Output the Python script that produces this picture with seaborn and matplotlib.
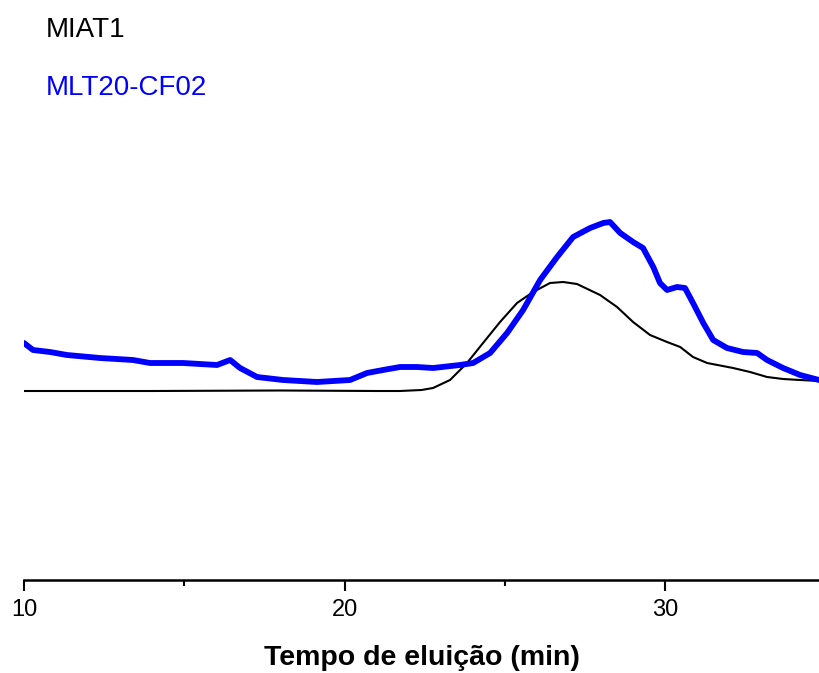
import matplotlib
matplotlib.use("Agg")
import matplotlib.pyplot as plt
import seaborn as sns
import pandas as pd
from matplotlib.ticker import MultipleLocator

# elution time (min) and detector signal (arbitrary units)
miat_t = [10.0, 14.0, 18.0, 21.0, 21.73, 22.4, 22.76, 23.29, 23.82, 24.32, 24.85,
          25.38, 25.88, 26.41, 26.82, 27.25, 27.97, 28.50, 29.00, 29.53, 30.06,
          30.47, 30.87, 31.31, 32.12, 32.65, 33.18, 33.68, 34.21, 34.8]
miat_v = [189, 189, 189.5, 189, 189, 190, 192, 200, 217, 237, 258,
          277, 288, 297, 298, 296, 285, 273, 258, 245, 238,
          233, 223, 217, 212, 208, 203, 201, 200, 199]

mlt_t = [10.0, 10.28, 10.81, 11.34, 12.37, 13.40, 13.93, 14.96, 16.02, 16.43,
         16.74, 17.27, 18.08, 19.14, 20.17, 20.70, 21.20, 21.73, 22.26, 22.76,
         23.60, 24.01, 24.54, 25.07, 25.57, 26.10, 26.63, 27.13, 27.66, 28.07,
         28.28, 28.60, 29.00, 29.31, 29.63, 29.84, 30.06, 30.37, 30.62, 30.87,
         31.19, 31.50, 31.93, 32.43, 32.87, 33.18, 33.68, 34.21, 34.8]
mlt_v = [237, 230, 228, 225, 222, 220, 217, 217, 215, 220,
         212, 203, 200, 198, 200, 207, 210, 213, 213, 212,
         215, 217, 227, 247, 270, 300, 323, 343, 352, 357,
         358, 347, 338, 332, 313, 297, 290, 293, 292, 277,
         257, 240, 232, 228, 227, 220, 212, 205, 200]

series_names = ["MIAT1", "MLT20-CF02"]
series_colors = ["black", "#0000ff"]
x_label = "Tempo de eluição (min)"

sns.set_theme(style="white")
plt.rcParams["font.family"] = ["Liberation Sans", "DejaVu Sans"]

fig = plt.figure(figsize=(8.19, 6.73), dpi=100)
ax = fig.add_axes([24 / 819, (673 - 580) / 673, 1 - 24 / 819, 580 / 673])

df_a = pd.DataFrame({"t": miat_t, "v": miat_v})
df_b = pd.DataFrame({"t": mlt_t, "v": mlt_v})
sns.lineplot(data=df_a, x="t", y="v", ax=ax, color=series_colors[0], lw=1.5)
sns.lineplot(data=df_b, x="t", y="v", ax=ax, color=series_colors[1], lw=4.2,
             solid_joinstyle="round", solid_capstyle="round")

ax.set_xlim(10, 34.8)
ax.set_ylim(0, 580)
for s in ["top", "right", "left"]:
    ax.spines[s].set_visible(False)
ax.spines["bottom"].set_linewidth(1.8)
ax.spines["bottom"].set_color("black")
ax.set_yticks([])
ax.set_ylabel("")
ax.xaxis.set_major_locator(MultipleLocator(10))
ax.xaxis.set_minor_locator(MultipleLocator(5))
ax.tick_params(axis="x", which="major", direction="out", length=8, width=1.5,
               color="black", labelsize=17, labelcolor="black", pad=6, bottom=True)
ax.tick_params(axis="x", which="minor", direction="out", length=4.5, width=1.5,
               color="black", bottom=True)
ax.set_xlabel(x_label, fontsize=20.5, fontweight="bold", labelpad=17, color="black")

fig.text(46 / 819, 1 - 30 / 673, series_names[0], color=series_colors[0],
         fontsize=20, va="center", ha="left")
fig.text(46 / 819, 1 - 88 / 673, series_names[1], color=series_colors[1],
         fontsize=20, va="center", ha="left")

fig.savefig("out.png", dpi=100)
